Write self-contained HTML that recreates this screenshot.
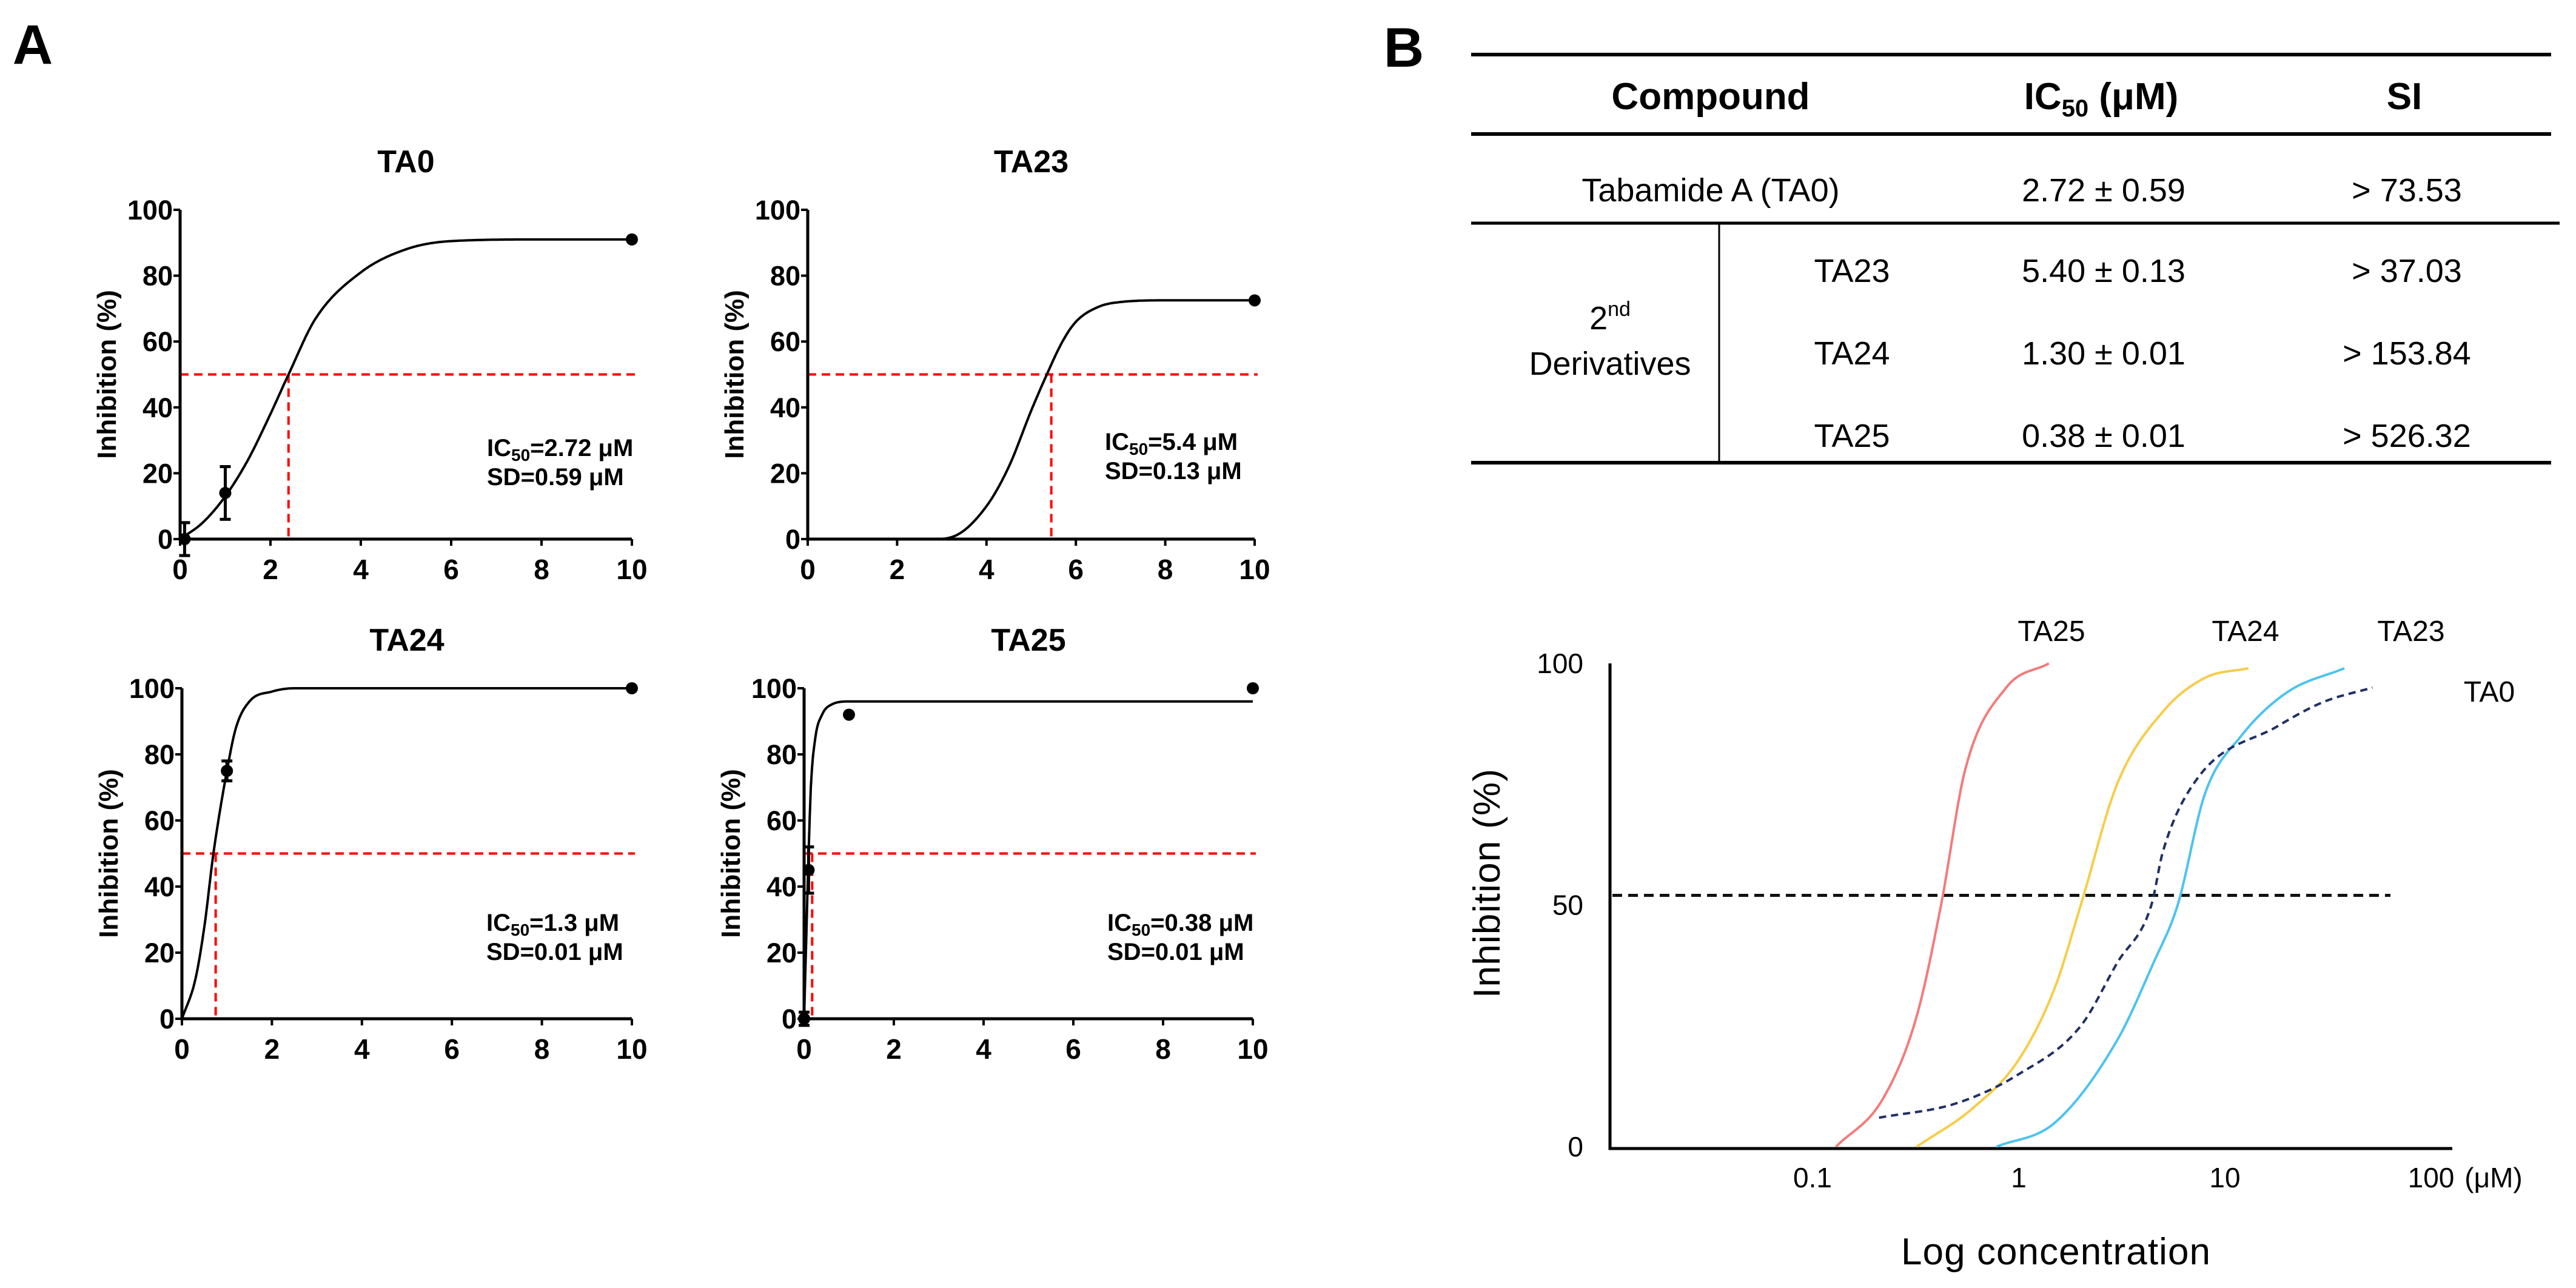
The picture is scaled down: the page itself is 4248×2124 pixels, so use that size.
<!DOCTYPE html>
<html><head><meta charset="utf-8"><style>
html,body{margin:0;padding:0;background:#fff}
svg{display:block}
text{font-family:"Liberation Sans",Arial,sans-serif}
</style></head><body>
<svg id="fig" xmlns="http://www.w3.org/2000/svg" width="4248" height="2124" viewBox="0 0 4248 2124">
<rect width="4248" height="2124" fill="#fff"/>
<text x="54" y="105" font-size="92" font-weight="bold" text-anchor="middle">A</text>
<text x="2315" y="110" font-size="92" font-weight="bold" text-anchor="middle">B</text>
<g id="left"></g>
<g id="table">
  <line x1="2426" y1="90" x2="4207" y2="90" stroke="#000" stroke-width="6"/>
  <line x1="2426" y1="221" x2="4207" y2="221" stroke="#000" stroke-width="6"/>
  <line x1="2426" y1="368" x2="4221" y2="368" stroke="#000" stroke-width="5"/>
  <line x1="2426" y1="763" x2="4207" y2="763" stroke="#000" stroke-width="6"/>
  <line x1="2835" y1="368" x2="2835" y2="763" stroke="#000" stroke-width="3"/>
  <g font-size="62" font-weight="bold" text-anchor="middle">
    <text x="2821" y="180">Compound</text>
    <text x="3465" y="180">IC<tspan font-size="40" dy="12">50</tspan><tspan dy="-12"> (μM)</tspan></text>
    <text x="3965" y="180">SI</text>
  </g>
  <g font-size="54" text-anchor="middle">
    <text x="2821" y="332">Tabamide A (TA0)</text>
    <text x="3469" y="332">2.72 ± 0.59</text>
    <text x="3969" y="332">&gt; 73.53</text>
    <text x="2655" y="543">2<tspan font-size="34" dy="-22">nd</tspan></text>
    <text x="2655" y="618">Derivatives</text>
    <text x="3054" y="465">TA23</text>
    <text x="3469" y="465">5.40 ± 0.13</text>
    <text x="3969" y="465">&gt; 37.03</text>
    <text x="3054" y="601">TA24</text>
    <text x="3469" y="601">1.30 ± 0.01</text>
    <text x="3969" y="601">&gt; 153.84</text>
    <text x="3054" y="737">TA25</text>
    <text x="3469" y="737">0.38 ± 0.01</text>
    <text x="3969" y="737">&gt; 526.32</text>
  </g>
</g>
<g id="right"></g>
</svg>
<script>
// ---------- Panel A data ----------
const xTicksA = [0, 2, 4, 6, 8, 10];
const yTicksA = [0, 20, 40, 60, 80, 100];
const ta0CurveX = [0, 0.5, 1, 1.5, 2, 2.4, 3, 4, 5, 6, 8, 10];
const ta0CurveY = [0, 5, 13, 24, 38, 50, 67, 81, 88, 90.5, 91, 91];
const ta0PtX = [0.1, 1, 10];
const ta0PtY = [0, 14, 91];
const ta0PtErr = [5, 8, 0];
const ta23CurveX = [0, 2.8, 3.3, 4, 4.5, 5, 5.35, 5.7, 6, 6.5, 7, 8, 10];
const ta23CurveY = [0, 0, 1, 10, 22, 39, 50, 60, 66, 70.5, 72, 72.5, 72.5];
const ta23PtX = [10];
const ta23PtY = [72.5];
const ta23PtErr = [0];
const ta24CurveX = [0, 0.3, 0.5, 0.7, 1, 1.2, 1.5, 2, 2.5, 10];
const ta24CurveY = [0, 12, 28, 50, 75, 88, 96, 99, 100, 100];
const ta24PtX = [1, 10];
const ta24PtY = [75, 100];
const ta24PtErr = [3, 0];
const ta25CurveX = [0, 0.05, 0.1, 0.15, 0.25, 0.4, 0.6, 1, 10];
const ta25CurveY = [0, 25, 50, 70, 85, 92, 95, 96, 96];
const ta25PtX = [0, 0.1, 1, 10];
const ta25PtY = [0, 45, 92, 100];
const ta25PtErr = [2, 7, 0, 0];
const ic50Lines = [2.4, 5.45, 0.75, 0.18];

// ---------- Panel B data ----------
const logTicks = [0.1, 1, 10, 100];
const logTickLabels = ["0.1", "1", "10", "100"];
const bYTicks = [0, 50, 100];
const ta25LogX = [0.13, 0.22, 0.32, 0.42, 0.55, 0.87, 1.4];
const ta25LogY = [0, 10, 27, 50, 78, 95, 100];
const ta24LogX = [0.32, 0.6, 1, 1.5, 2.0, 3, 5, 8, 13];
const ta24LogY = [0, 8, 18, 33, 50, 75, 90, 97, 99];
const ta23LogX = [0.78, 1.5, 3, 4.5, 5.9, 8, 12, 20, 38];
const ta23LogY = [0, 5, 22, 38, 50, 73, 85, 94, 99];
const ta0LogX = [0.21, 0.5, 1, 2, 3, 4.4, 5.0, 7.3, 18, 30, 52];
const ta0LogY = [6, 9, 15, 25, 38, 50, 61, 76, 87, 92, 95];
const halfLine = 52;

const NS = "http://www.w3.org/2000/svg";
function mk(parent, tag, attrs) {
  const e = document.createElementNS(NS, tag);
  for (const k in attrs) e.setAttribute(k, attrs[k]);
  parent.appendChild(e);
  return e;
}
// monotone cubic (Fritsch-Carlson) interpolation
function monotone(xs, ys) {
  const n = xs.length, d = [], m = [];
  for (let i = 0; i < n - 1; i++) d.push((ys[i + 1] - ys[i]) / (xs[i + 1] - xs[i]));
  m[0] = d[0]; m[n - 1] = d[n - 2];
  for (let i = 1; i < n - 1; i++) m[i] = (d[i - 1] * d[i] <= 0) ? 0 : (d[i - 1] + d[i]) / 2;
  for (let i = 0; i < n - 1; i++) {
    if (d[i] === 0) { m[i] = 0; m[i + 1] = 0; continue; }
    const a = m[i] / d[i], b = m[i + 1] / d[i], s = a * a + b * b;
    if (s > 9) { const t = 3 / Math.sqrt(s); m[i] = t * a * d[i]; m[i + 1] = t * b * d[i]; }
  }
  return x => {
    let i = 0;
    while (i < n - 2 && x > xs[i + 1]) i++;
    const h = xs[i + 1] - xs[i], t = (x - xs[i]) / h;
    const h00 = 2*t*t*t - 3*t*t + 1, h10 = t*t*t - 2*t*t + t, h01 = -2*t*t*t + 3*t*t, h11 = t*t*t - t*t;
    return h00 * ys[i] + h10 * h * m[i] + h01 * ys[i + 1] + h11 * h * m[i + 1];
  };
}
function curvePath(xs, ys, fx, fy, tx) {
  const tX = xs.map(tx);
  const f = monotone(tX, ys);
  const a = tX[0], b = tX[tX.length - 1];
  let d = "";
  for (let k = 0; k <= 400; k++) {
    const u = a + (b - a) * k / 400;
    d += (k ? "L" : "M") + fx(u).toFixed(1) + "," + fy(f(u)).toFixed(1);
  }
  return d;
}

const left = document.getElementById("left");
const panels = [
  {name: "ta0", title: "TA0", x0: 297, x1: 1042, y0: 889, y1: 346, cx: ta0CurveX, cy: ta0CurveY, px: ta0PtX, py: ta0PtY, pe: ta0PtErr, ic: ic50Lines[0], t1: "2.72", t2: "0.59", ax: 803, ay: 752},
  {name: "ta23", title: "TA23", x0: 1332, x1: 2069, y0: 889, y1: 346, cx: ta23CurveX, cy: ta23CurveY, px: ta23PtX, py: ta23PtY, pe: ta23PtErr, ic: ic50Lines[1], t1: "5.4", t2: "0.13", ax: 1822, ay: 742},
  {name: "ta24", title: "TA24", x0: 300, x1: 1042, y0: 1680, y1: 1135, cx: ta24CurveX, cy: ta24CurveY, px: ta24PtX, py: ta24PtY, pe: ta24PtErr, ic: ic50Lines[2], t1: "1.3", t2: "0.01", ax: 802, ay: 1535},
  {name: "ta25", title: "TA25", x0: 1326, x1: 2066, y0: 1680, y1: 1135, cx: ta25CurveX, cy: ta25CurveY, px: ta25PtX, py: ta25PtY, pe: ta25PtErr, ic: ic50Lines[3], t1: "0.38", t2: "0.01", ax: 1826, ay: 1535}
];
panels.forEach(p => {
  const g = mk(left, "g", {});
  
  
  const X = v => p.x0 + (p.x1 - p.x0) * v / 10;
  const Y = v => p.y0 + (p.y1 - p.y0) * v / 100;
  const t = mk(g, "text", {x: (p.x0 + p.x1) / 2, y: p.y1 - 62, "font-size": 52, "font-weight": "bold", "text-anchor": "middle"});
  t.textContent = p.title;
  
  
  const yl = mk(g, "text", {x: 0, y: 0, "font-size": 44, "font-weight": "bold", "text-anchor": "middle", transform: "translate(" + (p.x0 - 106) + "," + (p.y0 + p.y1) / 2 + ") rotate(-90)"});
  yl.textContent = "Inhibition (%)";
  
  
  const rh = mk(g, "line", {x1: X(0), y1: Y(50), x2: X(10) + 5, y2: Y(50), stroke: "#f00", "stroke-width": 4, "stroke-dasharray": "14 9"});
  
  
  const rv = mk(g, "line", {x1: X(p.ic), y1: Y(50), x2: X(p.ic), y2: Y(0), stroke: "#f00", "stroke-width": 4, "stroke-dasharray": "14 9"});
  
  
  const ax = mk(g, "path", {d: "M" + X(0) + "," + Y(100) + "V" + Y(0) + "H" + X(10), stroke: "#000", "stroke-width": 5, fill: "none"});
  
  
  yTicksA.forEach(v => {
    mk(g, "line", {x1: X(0) - 11, y1: Y(v), x2: X(0), y2: Y(v), stroke: "#000", "stroke-width": 4});
    const tl = mk(g, "text", {x: X(0) - 12, y: Y(v) + 16, "font-size": 45, "font-weight": "bold", "text-anchor": "end"});
    tl.textContent = v;
    
    
  });
  xTicksA.forEach(v => {
    mk(g, "line", {x1: X(v), y1: Y(0), x2: X(v), y2: Y(0) + 11, stroke: "#000", "stroke-width": 4});
    const tl = mk(g, "text", {x: X(v), y: Y(0) + 66, "font-size": 46, "font-weight": "bold", "text-anchor": "middle"});
    tl.textContent = v;
    
    
  });
  const curve = mk(g, "path", {d: curvePath(p.cx, p.cy, X, Y, v => v), stroke: "#000", "stroke-width": 4, fill: "none"});
  
  
  p.px.forEach((v, i) => {
    if (p.pe[i] > 0) {
      const eb = mk(g, "path", {d: "M" + (X(v) - 9) + "," + Y(p.py[i] + p.pe[i]) + "h18M" + X(v) + "," + Y(p.py[i] + p.pe[i]) + "V" + Y(p.py[i] - p.pe[i]) + "M" + (X(v) - 9) + "," + Y(p.py[i] - p.pe[i]) + "h18", stroke: "#000", "stroke-width": 5, fill: "none"});
      
      
    }
    const c = mk(g, "circle", {cx: X(v), cy: Y(p.py[i]), r: 10, fill: "#000"});
    
    
  });
  const a1 = mk(g, "text", {x: p.ax, y: p.ay, "font-size": 40, "font-weight": "bold"});
  a1.innerHTML = 'IC<tspan font-size="28" dy="8">50</tspan><tspan dy="-8">=' + p.t1 + ' μM</tspan>';
  
  
  const a2 = mk(g, "text", {x: p.ax, y: p.ay + 48, "font-size": 40, "font-weight": "bold"});
  a2.textContent = "SD=" + p.t2 + " μM";
  
  
});

// ---------- Panel B chart ----------
const right = document.getElementById("right");
const LXl = l => 3329 + 340 * l;
const LX = c => LXl(Math.log10(c));
const LY = v => 1891 - 7.97 * v;
const bg = mk(right, "g", {});


const baxes = mk(bg, "path", {d: "M2655,1094V1894H4044", stroke: "#000", "stroke-width": 5, fill: "none"});


bYTicks.forEach(v => {
  const tl = mk(bg, "text", {x: 2611, y: LY(v) + 16, "font-size": 46, "text-anchor": "end"});
  tl.textContent = v;
  
  
});
logTicks.forEach((c, i) => {
  const tl = mk(bg, "text", {x: LX(c), y: 1958, "font-size": 46, "text-anchor": "middle"});
  tl.textContent = logTickLabels[i];
  
  
});
const unit = mk(bg, "text", {x: 4112, y: 1958, "font-size": 46, "text-anchor": "middle"});
unit.textContent = "(μM)";


const hl = mk(bg, "line", {x1: 2659, y1: LY(halfLine), x2: 3942, y2: LY(halfLine), stroke: "#111", "stroke-width": 5, "stroke-dasharray": "16 10"});


const series = [
  {n: "ta25", xs: ta25LogX, ys: ta25LogY, col: "#f47a7a", dash: null},
  {n: "ta24", xs: ta24LogX, ys: ta24LogY, col: "#f8cc48", dash: null},
  {n: "ta23", xs: ta23LogX, ys: ta23LogY, col: "#4cc3ef", dash: null},
  {n: "ta0", xs: ta0LogX, ys: ta0LogY, col: "#1f2f66", dash: "12 8"}
];
series.forEach(s => {
  const attrs = {d: curvePath(s.xs, s.ys, LXl, LY, c => Math.log10(c)), stroke: s.col, "stroke-width": 4, fill: "none"};
  if (s.dash) attrs["stroke-dasharray"] = s.dash;
  const pth = mk(bg, "path", attrs);
  
  
});
const labs = [["TA25", 3383, 1057], ["TA24", 3703, 1057], ["TA23", 3976, 1057], ["TA0", 4105, 1157]];
labs.forEach(l => {
  const tl = mk(bg, "text", {x: l[1], y: l[2], "font-size": 48, "text-anchor": "middle"});
  tl.textContent = l[0];
  
  
});
const byl = mk(bg, "text", {x: 0, y: 0, "font-size": 62, "text-anchor": "middle", textLength: 378, transform: "translate(2473,1457) rotate(-90)"});
byl.textContent = "Inhibition (%)";


const bxl = mk(bg, "text", {x: 3390, y: 2085, "font-size": 62, "text-anchor": "middle", textLength: 510});
bxl.textContent = "Log concentration";


</script>
</body></html>
